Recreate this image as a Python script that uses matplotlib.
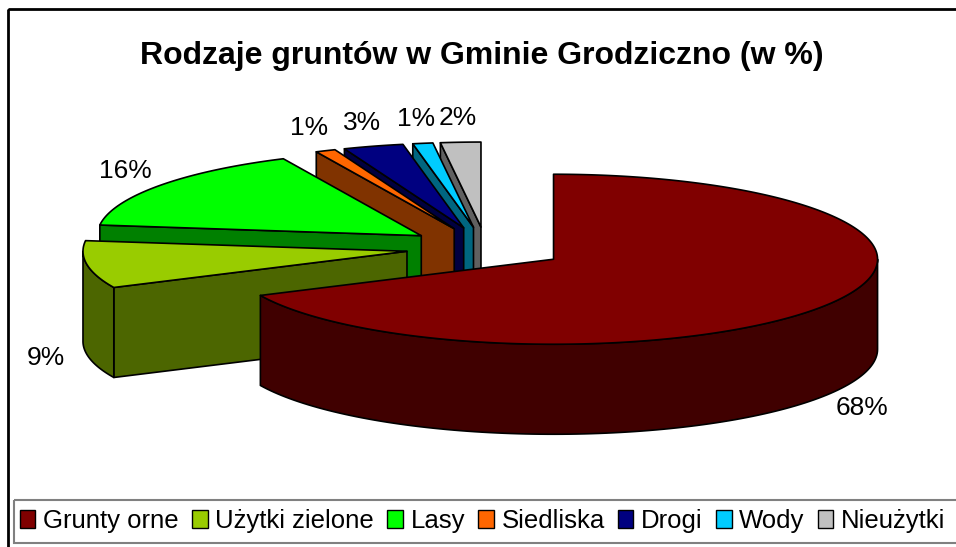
import numpy as np
import matplotlib
matplotlib.use('Agg')
import matplotlib.pyplot as plt
from matplotlib.patches import Polygon, Rectangle, Patch

plt.rcParams['font.family'] = ['Liberation Sans', 'DejaVu Sans']

# ---- data ----
categories = ['Grunty orne', 'Użytki zielone', 'Lasy', 'Siedliska', 'Drogi', 'Wody', 'Nieużytki']
values = [68, 9, 16, 1, 3, 1, 2]
value_labels = ['68%', '9%', '16%', '1%', '3%', '1%', '2%']
top_colors = ['#800000', '#99CC00', '#00FF00', '#FF6600', '#000080', '#00CCFF', '#C0C0C0']
side_colors = ['#400000', '#4C6600', '#008000', '#803300', '#000040', '#006680', '#606060']
title = 'Rodzaje gruntów w Gminie Grodziczno (w %)'

# ---- layout ----
W, H = 956, 547
fig = plt.figure(figsize=(W / 100, H / 100), dpi=100)
ax = fig.add_axes([0, 0, 1, 1])
ax.set_xlim(0, W)
ax.set_ylim(H, 0)
ax.axis('off')

CX, CY = 486, 248       # pie centre
RX, RY = 324, 85        # ellipse radii of top face
EXPLODE = 80            # explosion distance
DEPTH = 90              # pie thickness
LW = 1.2


def pt(a, t, r=1.0):
    return (a[0] + r * RX * np.sin(np.radians(t)), a[1] - r * RY * np.cos(np.radians(t)))


def add_poly(pts, fc):
    ax.add_patch(Polygon(pts, closed=True, facecolor=fc, edgecolor='black',
                         lw=LW, joinstyle='round'))


total = float(sum(values))
bounds = np.concatenate([[0], np.cumsum(values)]) / total * 360.0
slices = []
for i, v in enumerate(values):
    t1, t2 = bounds[i], bounds[i + 1]
    m = (t1 + t2) / 2
    apex = (CX + EXPLODE * np.sin(np.radians(m)),
            CY - EXPLODE * RY / RX * np.cos(np.radians(m)))
    slices.append((i, t1, t2, m, apex))

order = sorted(slices, key=lambda s: -np.cos(np.radians(s[3])))
for i, t1, t2, m, apex in order:
    side = side_colors[i]
    if np.sin(np.radians(t1)) < -1e-9:
        e = pt(apex, t1)
        add_poly([apex, e, (e[0], e[1] + DEPTH), (apex[0], apex[1] + DEPTH)], side)
    if np.sin(np.radians(t2)) > 1e-9:
        e = pt(apex, t2)
        add_poly([apex, e, (e[0], e[1] + DEPTH), (apex[0], apex[1] + DEPTH)], side)
    a1, a2 = max(t1, 90), min(t2, 270)
    if a2 > a1:
        ts = np.linspace(a1, a2, 120)
        top = [pt(apex, t) for t in ts]
        bot = [(x, y + DEPTH) for x, y in top][::-1]
        add_poly(top + bot, side)
    ts = np.linspace(t1, t2, max(3, int((t2 - t1) * 2)))
    add_poly([apex] + [pt(apex, t) for t in ts], top_colors[i])

# value labels
for i, t1, t2, m, apex in slices:
    s, c = np.sin(np.radians(m)), np.cos(np.radians(m))
    p = pt(apex, m, 1.05)
    x = p[0] + 25 * s
    y = p[1] + (DEPTH if c < 0 else 0) - 20 * c
    ax.text(x, y, value_labels[i], ha='center', va='center', fontsize=19)

# title
ax.text(482, 56, title, ha='center', va='center', fontsize=23, fontweight='bold')

# borders
ax.add_patch(Rectangle((8, 9), 1000, 600, fill=False, ec='black', lw=2))
ax.add_patch(Rectangle((14, 500), 1000, 43, fill=False, ec='#808080', lw=1.5))

handles = [Patch(facecolor=c, edgecolor='black', lw=1) for c in top_colors]
fig.legend(handles, categories, ncol=7, loc='center left',
           bbox_to_anchor=(20 / W, 1 - 521 / H), frameon=False,
           fontsize=18.5, handlelength=0.6, handleheight=0.65,
           handletextpad=0.3, columnspacing=0.52, borderpad=0, borderaxespad=0)

fig.savefig('out.png', dpi=100)
